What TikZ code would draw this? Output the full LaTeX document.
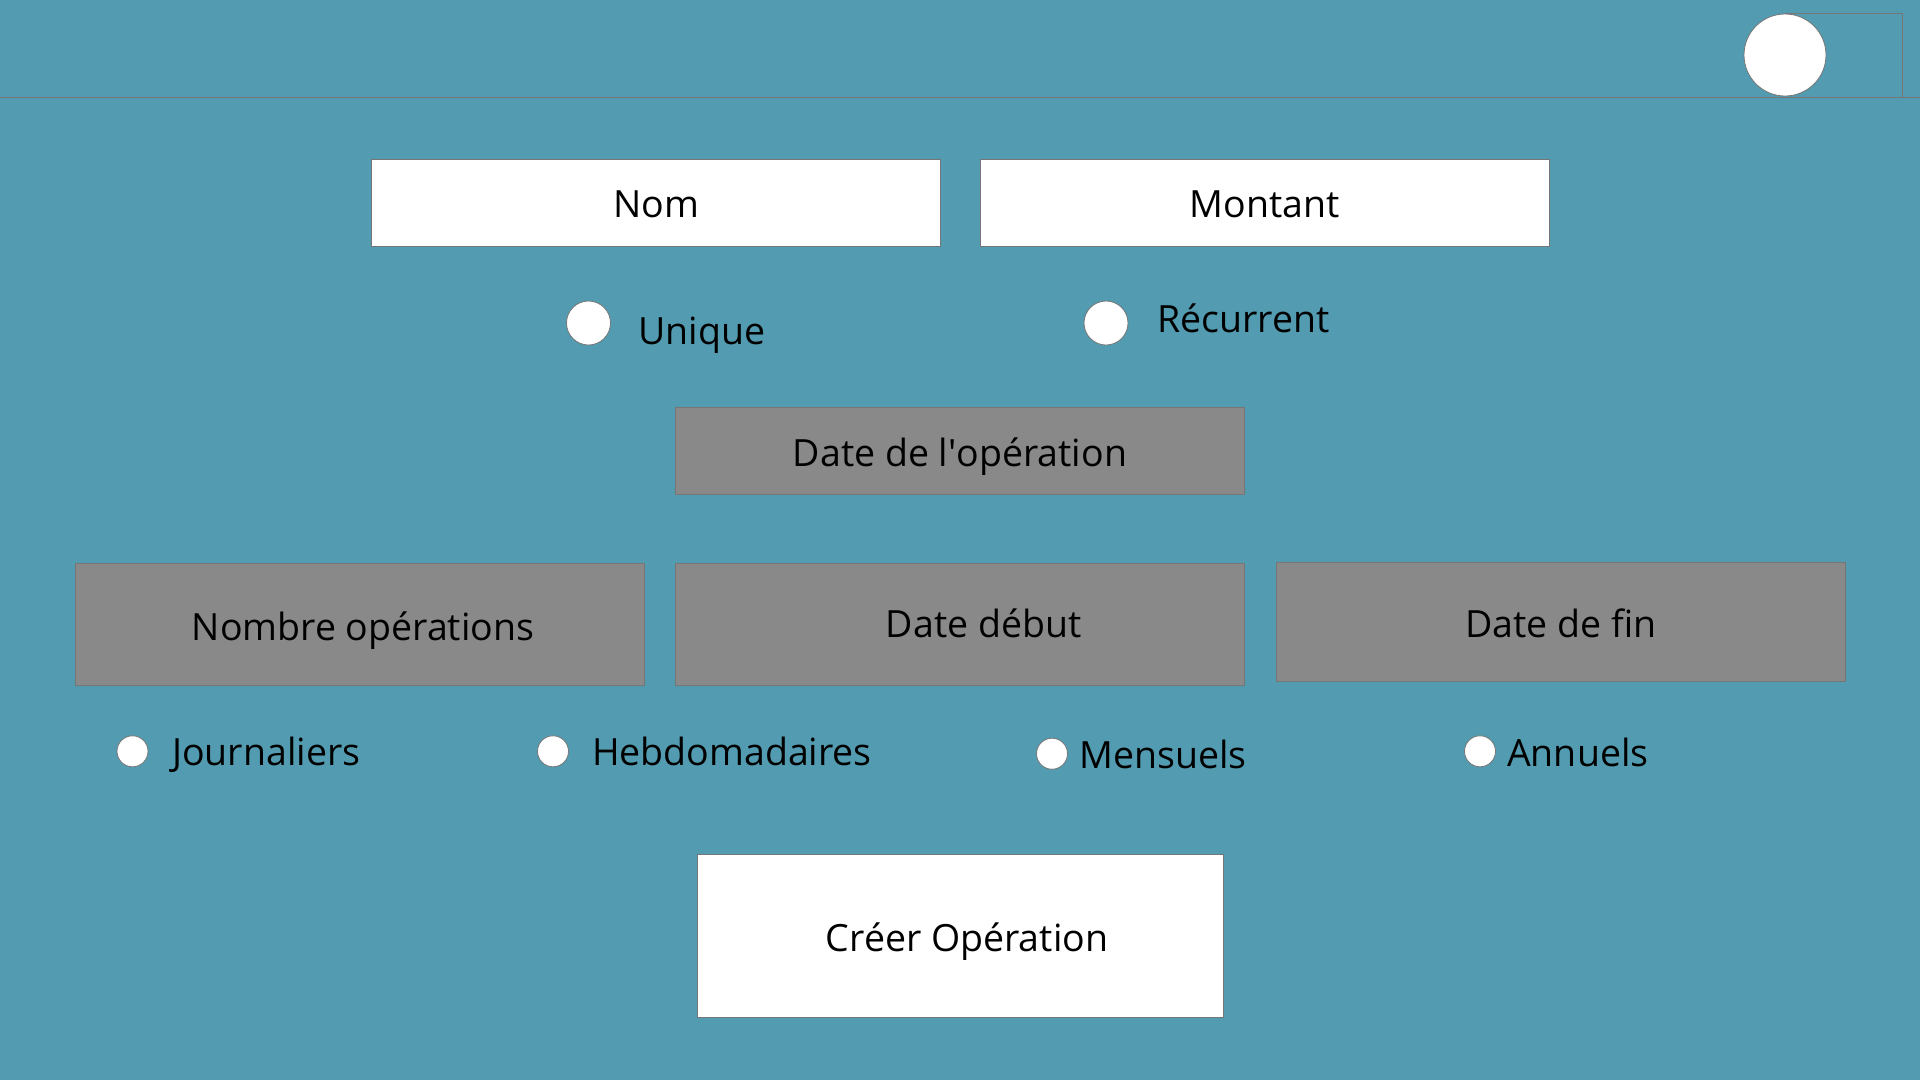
\documentclass[tikz,border=0pt]{standalone}
\usepackage{fontspec}
\setmainfont{Open Sans}
\definecolor{fond}{RGB}{82,155,176}
\definecolor{bord}{RGB}{118,118,118}
\definecolor{champgris}{RGB}{137,137,137}
\newcommand{\texte}{\fontsize{37.5}{45}\selectfont}
\tikzset{
  champ/.style={draw=bord, line width=1pt, fill=white, minimum width=569pt, minimum height=87pt,
    inner sep=0pt, text height=32pt, text depth=0pt, font=\texte},
  champsombre/.style={champ, fill=champgris},
  libelle/.style={inner sep=0pt, text height=32pt, text depth=0pt, font=\texte},
  radio/.style={circle, draw=bord, line width=0.8pt, fill=white, inner sep=0pt},
  etiquette/.style={anchor=base west, inner sep=0pt, font=\texte},
}
\begin{document}
\begin{tikzpicture}[x=1pt, y=-1pt]
			\useasboundingbox (0,0) rectangle (1920,1080);
			\fill [fond] (0,0) rectangle (1920,1080);
			% barre du haut
			\draw [bord, line width=1pt] (0,97) -- (1920,97);
			\draw [bord, line width=1pt] (1785,13) -- (1902,13) -- (1902,97);
			\node [radio, minimum size=82pt] (profil) at (1785,55) {};
			% champs de saisie
			\node [champ, text height=28.5pt] (nom) at (656,202.8) {Nom};
			\node [champ, text height=28.5pt] (montant) at (1264.8,202.8) {Montant};
			\node [radio, minimum size=44pt] (unique) at (588.5,323) {};
			\node [etiquette] (uniquetxt) at (638,344) {Unique};
			\node [radio, minimum size=44pt] (recurrent) at (1106,323) {};
			\node [etiquette] (recurrenttxt) at (1157,332.7) {Récurrent};
			\node [champsombre] (dateop) at (960,450.8) {Date de l\textquotesingle opération};
			\node [champsombre, minimum height=122pt] (nbop) at (359.7,624.3) {};
			\node [libelle] (nboptxt) at (363,624.3) {Nombre opérations};
			\node [champsombre, minimum height=122pt] (datedeb) at (959.7,624.3) {};
			\node [libelle, text height=27pt] (datedebtxt) at (983.7,624.3) {Date début};
			\node [champsombre, minimum height=119pt] (datefin) at (1560.7,621.8) {Date de fin};
			% frequence
			\node [radio, minimum size=31pt] (jour) at (132.5,751.3) {};
			\node [etiquette] (jourtxt) at (172,765) {Journaliers};
			\node [radio, minimum size=31pt] (hebdo) at (553,751.3) {};
			\node [etiquette] (hebdotxt) at (591.8,765) {Hebdomadaires};
			\node [radio, minimum size=31pt] (mois) at (1052,753.7) {};
			\node [etiquette] (moistxt) at (1079,768.3) {Mensuels};
			\node [radio, minimum size=31pt] (an) at (1480,751.3) {};
			\node [etiquette] (antxt) at (1507,766.7) {Annuels};
			% bouton
			\node [champ, minimum width=526pt, minimum height=162.7pt] (creer) at (960.1,935.7) {};
			\node [libelle] (creertxt) at (967,935.7) {Créer Opération};
\end{tikzpicture}
\end{document}
